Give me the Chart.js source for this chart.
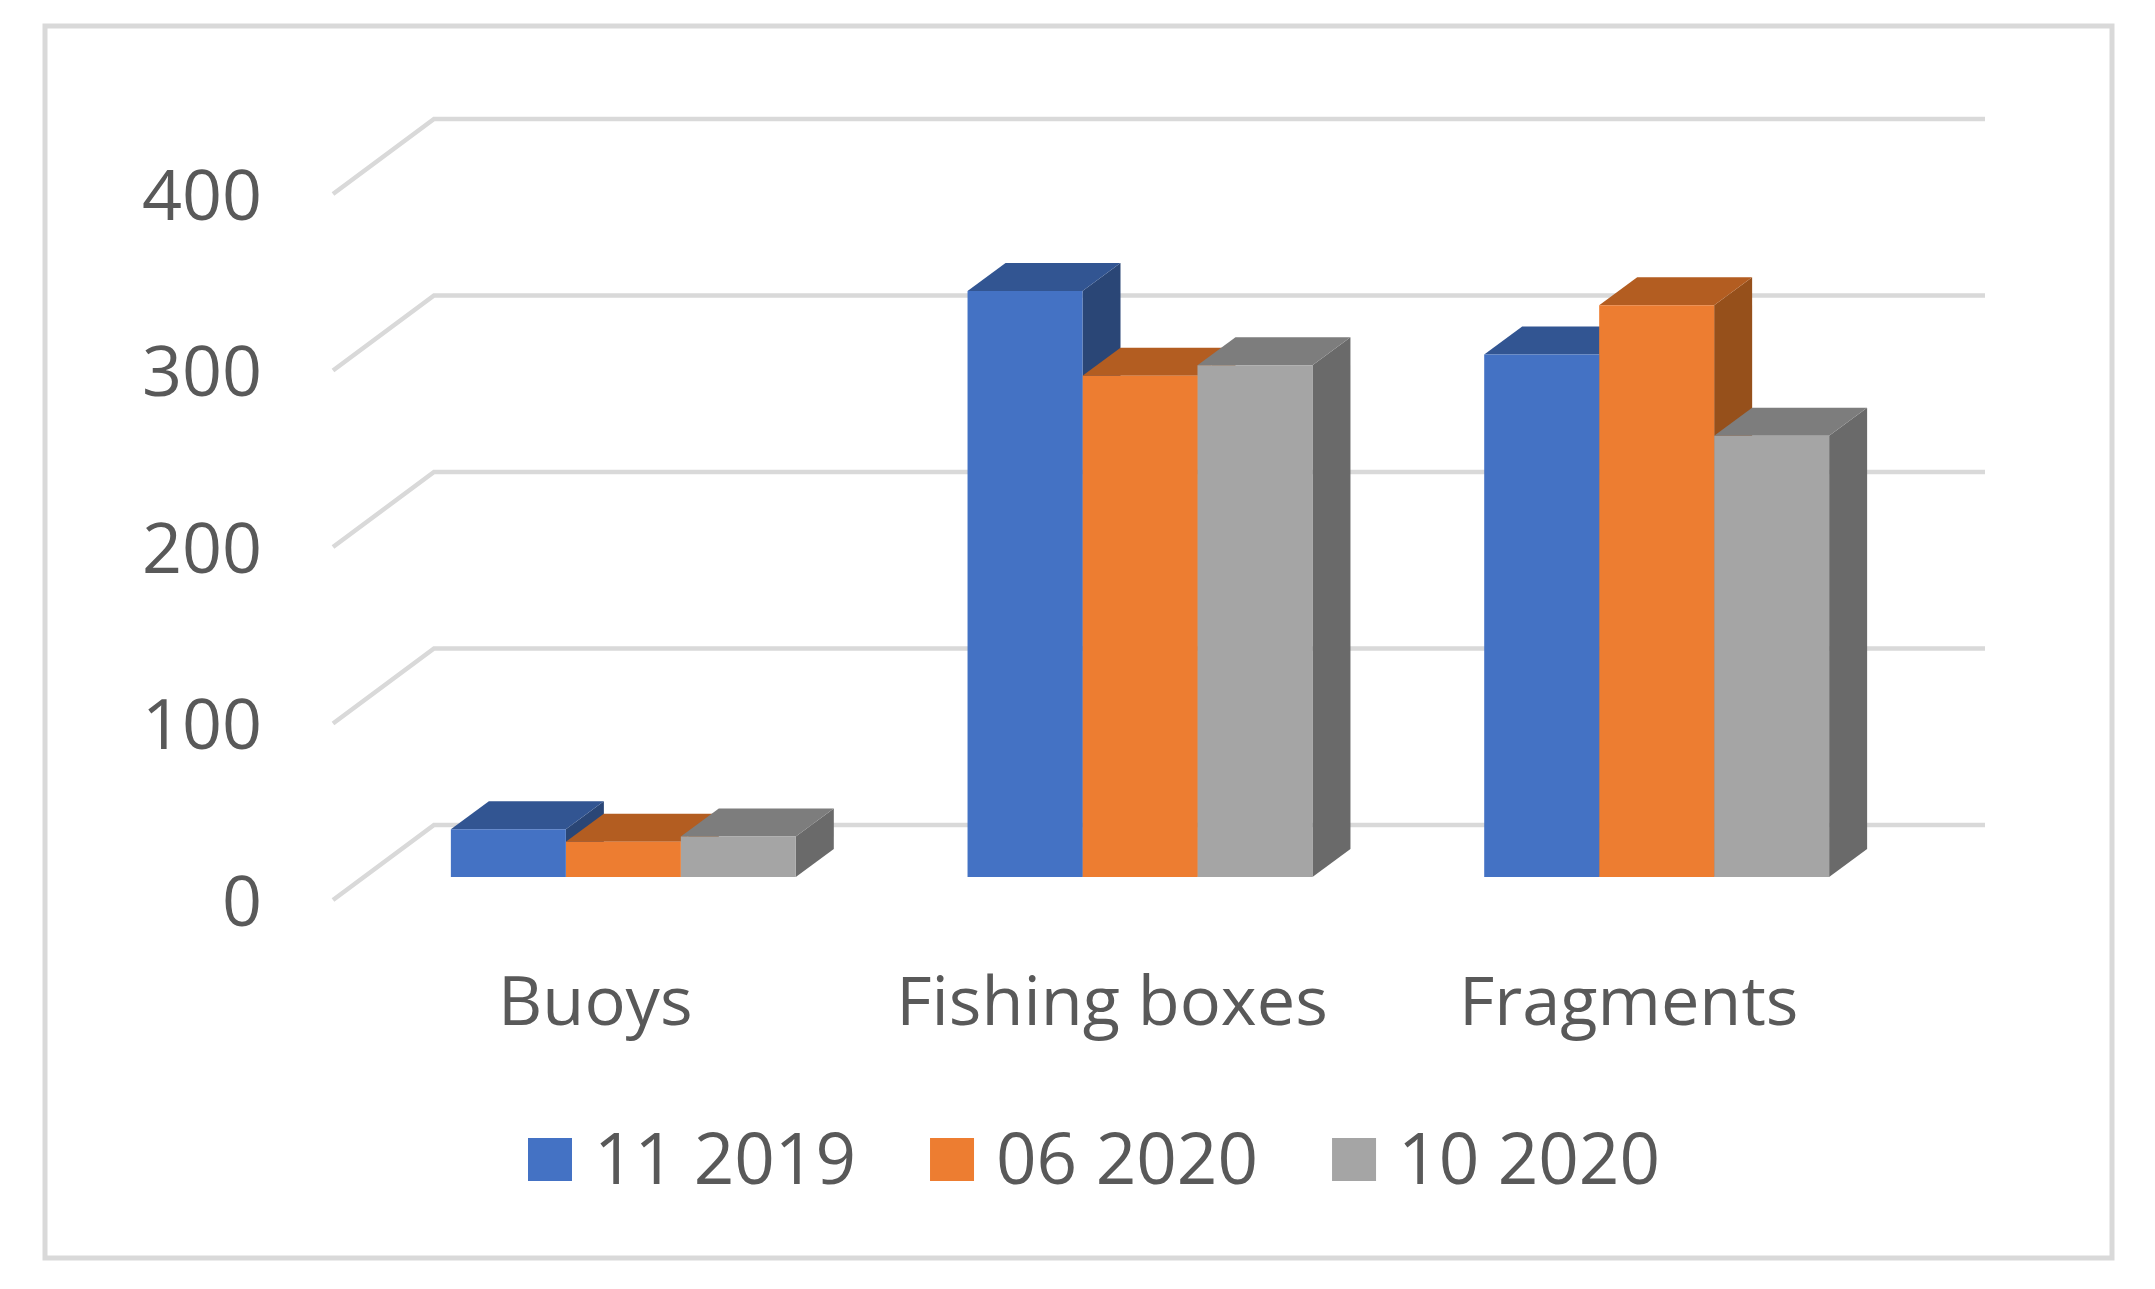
<!DOCTYPE html>
<html>
<head>
<meta charset="utf-8">
<title>Debris by type</title>
<script src="https://cdn.jsdelivr.net/npm/chart.js@4"></script>
<style>
  html, body { margin: 0; padding: 0; background: #fff; }
  canvas { display: block; }
</style>
</head>
<body>
<canvas id="myChart" width="2155" height="1289"></canvas>
<script>
// values
const categories = ['Buoys', 'Fishing boxes', 'Fragments'];
const seriesNames = ['11 2019', '06 2020', '10 2020'];
const series1 = [27, 332, 296];
const series2 = [20, 284, 324];
const series3 = [23, 290, 250];

const frontColors = ['#4472C4', '#ED7D31', '#A5A5A5'];
const topColors = ['#325592', '#B35D21', '#7D7D7D'];
const sideColors = ['#2A4676', '#96501B', '#6A6A6A'];

const fontFamily = '"Open Sans", sans-serif';
const textColor = '#595959';
const lineColor = '#D9D9D9';

// fake 3D: bar depth, and where the floor sits relative to the bars
const barDepthX = 38, barDepthY = 28;
const wallBackX = 69, wallBackY = 52, wallFrontX = -32, wallFrontY = 23;
const wallEndX = 1985;

function poly(c, pts, color) {
  c.fillStyle = color;
  c.beginPath();
  pts.forEach((p, i) => i ? c.lineTo(p[0], p[1]) : c.moveTo(p[0], p[1]));
  c.closePath();
  c.fill();
}

const frame3d = {
  id: 'frame3d',
  beforeDraw(chart) {
    const c = chart.ctx;
    c.save();
    c.strokeStyle = lineColor;
    c.lineWidth = 5;
    c.strokeRect(45, 26, 2067, 1232);
    c.restore();
  },
  beforeDatasetsDraw(chart) {
    const c = chart.ctx, y = chart.scales.y;
    const left = chart.chartArea.left;
    c.save();
    // floor and back wall lines
    c.strokeStyle = lineColor;
    c.lineWidth = 4.5;
    y.ticks.forEach(t => {
      const py = y.getPixelForValue(t.value);
      c.beginPath();
      c.moveTo(left + wallFrontX, py + wallFrontY);
      c.lineTo(left + wallBackX, py - wallBackY);
      c.lineTo(wallEndX, py - wallBackY);
      c.stroke();
    });
    // top and side faces, left to right; the fronts go over them afterwards
    categories.forEach((cat, i) => {
      seriesNames.forEach((name, s) => {
        const b = chart.getDatasetMeta(s).data[i];
        const l = b.x - b.width / 2, r = b.x + b.width / 2;
        poly(c, [[r, b.y], [r + barDepthX, b.y - barDepthY], [r + barDepthX, b.base - barDepthY], [r, b.base]], sideColors[s]);
        poly(c, [[l, b.y], [l + barDepthX, b.y - barDepthY], [r + barDepthX, b.y - barDepthY], [r, b.y]], topColors[s]);
      });
    });
    c.restore();
  },
  afterDraw(chart) {
    // legend, the built-in one cannot do this narrow a gap before the text
    const c = chart.ctx;
    let x = 528;
    c.save();
    c.font = '71px ' + fontFamily;
    c.textBaseline = 'middle';
    seriesNames.forEach((name, s) => {
      c.fillStyle = frontColors[s];
      c.fillRect(x, 1138, 44, 43);
      c.fillStyle = textColor;
      c.fillText(name, x + 66, 1164);
      x += 66 + c.measureText(name).width + 74;
    });
    c.restore();
  }
};

const ctx = document.getElementById('myChart');
var chart = new Chart(ctx, {
  type: 'bar',
  data: {
    labels: categories,
    datasets: [series1, series2, series3].map((values, s) => ({
      label: seriesNames[s],
      data: values,
      backgroundColor: frontColors[s],
      categoryPercentage: 0.6676,
      barPercentage: 1
    }))
  },
  options: {
    responsive: false,
    animation: false,
    layout: { padding: { top: 171, right: 240 } },
    plugins: { legend: { display: false }, tooltip: { enabled: false } },
    scales: {
      x: {
        grid: { display: false },
        border: { display: false },
        ticks: {
          color: textColor,
          font: { family: fontFamily, size: 68.5 },
          padding: 79,
          labelOffset: -28,
          maxRotation: 0,
          autoSkip: false
        },
        afterFit(scale) {
          scale.height = 412;
          scale.paddingLeft = 0;
          scale.paddingRight = 0;
        }
      },
      y: {
        min: 0,
        max: 400,
        grid: { display: false },
        border: { display: false },
        ticks: {
          stepSize: 100,
          color: textColor,
          font: { family: fontFamily, size: 70 },
          padding: 95,
          labelOffset: 29
        },
        afterFit(scale) {
          scale.width = 365;
          scale.paddingTop = 0;
          scale.paddingBottom = 0;
        }
      }
    }
  },
  plugins: [frame3d]
});
</script>
</body>
</html>
